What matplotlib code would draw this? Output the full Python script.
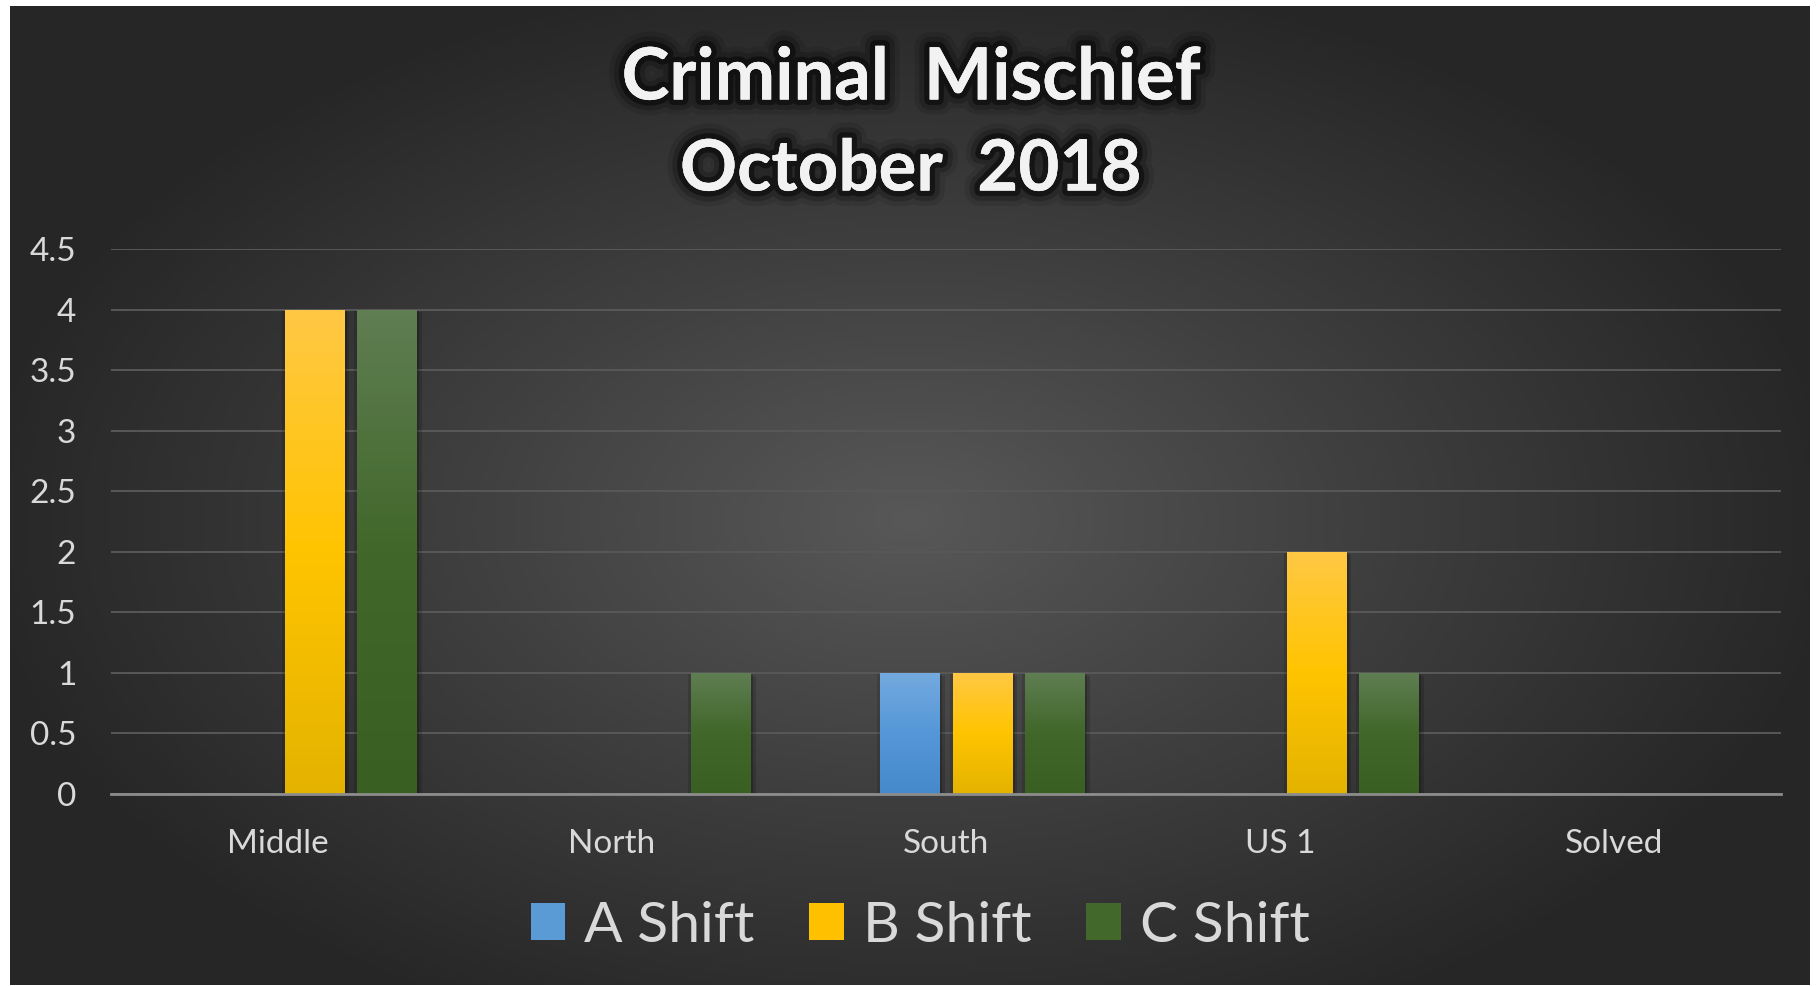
import matplotlib
matplotlib.use('Agg')
import matplotlib.pyplot as plt
import matplotlib.patheffects as pe
from matplotlib.colors import LinearSegmentedColormap
from matplotlib.patches import Rectangle
import numpy as np

# Data
categories = ['Middle', 'North', 'South', 'US 1', 'Solved']
a_shift = [0, 0, 1, 0, 0]
b_shift = [4, 0, 1, 2, 0]
c_shift = [4, 1, 1, 1, 0]
series_names = ['A Shift', 'B Shift', 'C Shift']

# gradient colours (top, middle, bottom) per series
grad_cols = [['#74aadf', '#5597d8', '#468acb'],
             ['#ffc844', '#ffc400', '#e4b300'],
             ['#5f7e52', '#41672a', '#3a5f22']]
solid_cols = ['#5b9bd5', '#ffc000', '#43682b']

font = 'Lato'
W, H = 1818, 986
fig = plt.figure(figsize=(W/100, H/100), dpi=100, facecolor='white')

# dark radial-gradient background panel
bg = fig.add_axes([10/W, 1/H, 1800/W, 979/H])
bg.set_axis_off()
gx, gy = np.meshgrid(np.linspace(-1, 1, 400), np.linspace(-1, 1, 220))
r = np.sqrt((gx / 1.05) ** 2 + ((gy - 0.05) / 1.15) ** 2)
r = np.clip(r, 0, 1)
bg_cmap = LinearSegmentedColormap.from_list('bg', ['#585858', '#3e3e3e', '#262626'])
bg.imshow(r, cmap=bg_cmap, aspect='auto', extent=[0, 1, 0, 1], vmin=0, vmax=1)
bg.set_xlim(0, 1)
bg.set_ylim(0, 1)

ax = fig.add_axes([111/W, 1 - 794/H, 1670/W, 545/H])
ax.patch.set_alpha(0)

x = np.arange(len(categories))
# Excel layout has four slots per category, the first one empty
step = 0.217
width = 0.177
slots = [1, 2, 3]
all_series = [a_shift, b_shift, c_shift]

ax.set_yticks(np.arange(0, 4.6, 0.5))
ax.set_yticklabels(['0', '0.5', '1', '1.5', '2', '2.5', '3', '3.5', '4', '4.5'])
ax.grid(axis='y', color='#585858', linewidth=1.4)
ax.set_axisbelow(True)

for i, vals in enumerate(all_series):
    cmap = LinearSegmentedColormap.from_list('s%d' % i, grad_cols[i][::-1])
    bars = ax.bar(x + (slots[i] - 1.5) * step, vals, width, color=solid_cols[i],
                  label=series_names[i], zorder=3,
                  path_effects=[pe.SimplePatchShadow(offset=(4, -2), shadow_rgbFace='black', alpha=0.15),
                                pe.SimplePatchShadow(offset=(-2, -1), shadow_rgbFace='black', alpha=0.12),
                                pe.SimplePatchShadow(offset=(2, -1), shadow_rgbFace='black', alpha=0.2),
                                pe.Normal()])
    for b in bars:
        h = b.get_height()
        if h <= 0:
            continue
        x0 = b.get_x()
        img = ax.imshow(np.linspace(0, 1, 100).reshape(-1, 1), cmap=cmap, aspect='auto',
                        origin='lower', extent=[x0, x0 + b.get_width(), 0, h], zorder=4)
        img.set_clip_path(b)

ax.set_xlim(-0.5, len(categories) - 0.5)
ax.set_ylim(0, 4.5)
ax.set_xticks(x)
ax.set_xticklabels(categories)

for s in ['top', 'right', 'left']:
    ax.spines[s].set_visible(False)
ax.spines['bottom'].set_color('#8c8c8c')
ax.spines['bottom'].set_linewidth(2)
ax.spines['bottom'].set_zorder(5)
ax.tick_params(axis='both', length=0, colors='#d9d9d9', labelsize=24)
ax.tick_params(axis='y', pad=25)
ax.tick_params(axis='x', pad=25)
for lab in ax.get_xticklabels() + ax.get_yticklabels():
    lab.set_fontfamily(font)

# title with dark glow
glow = [pe.withStroke(linewidth=22, foreground='black', alpha=0.1),
        pe.withStroke(linewidth=15, foreground='black', alpha=0.2),
        pe.withStroke(linewidth=8, foreground='black', alpha=0.45),
        pe.Normal()]
fig.text(911/W, 1 - 79/H, 'Criminal  Mischief', ha='center', va='center',
         fontsize=52, fontweight='bold', color='#f2f2f2', family=font, path_effects=glow)
fig.text(911/W, 1 - 170/H, 'October  2018', ha='center', va='center',
         fontsize=51, fontweight='bold', color='#f2f2f2', family=font, path_effects=glow)

handles = [Rectangle((0, 0), 1, 1, facecolor=c) for c in solid_cols]
leg = fig.legend(handles, series_names, loc='center', bbox_to_anchor=(920/W, 1 - 926/H),
                 ncol=3, frameon=False, handlelength=0.61, handleheight=0.6,
                 handletextpad=0.33, columnspacing=0.96, prop={'family': font, 'size': 41})
for t in leg.get_texts():
    t.set_color('#d9d9d9')

fig.savefig('out.png', dpi=100, facecolor='white')
